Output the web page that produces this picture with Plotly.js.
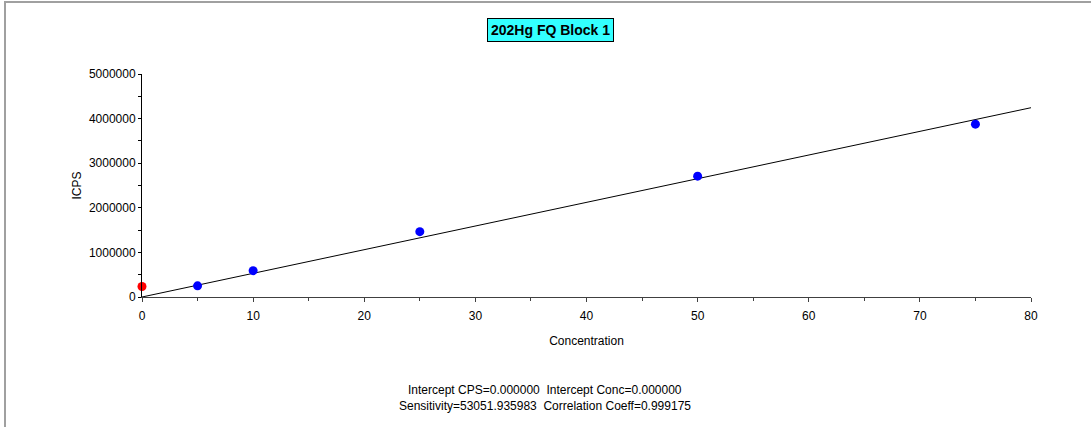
<!DOCTYPE html>
<html>
<head>
<meta charset="utf-8">
<script src="https://cdn.plot.ly/plotly-3.0.1.min.js"></script>
<style>
  html, body { margin: 0; padding: 0; background: #fff; }
  #wrap { position: relative; width: 1091px; height: 427px; overflow: hidden; }
  #frame { position: absolute; left: 4px; top: 1px; width: 1100px; height: 440px;
           border-left: 2px solid #a0a0a0; border-top: 2px solid #a0a0a0; pointer-events: none; }
  #chart { position: absolute; left: 0; top: 0; width: 1091px; height: 427px; }
</style>
</head>
<body>
<div id="wrap">
  <div id="chart"></div>
  <div id="frame"></div>
</div>
<script>
// Calibration standards
const stdConc = [5, 10, 25, 50, 75];
const stdIcps = [250000, 590000, 1465000, 2710000, 3875000];
// Blank
const blankConc = [0];
const blankIcps = [235000];
// Fit parameters
const interceptCps = 0.0;
const sensitivity = 53051.935983;
const correlation = 0.999175;
const fitConc = [0, 80];
const fitIcps = fitConc.map(c => interceptCps + sensitivity * c);

const chartTitle = '202Hg FQ Block 1';
const xTitle = 'Concentration';
const yTitle = 'ICPS';
const statsLine1 = 'Intercept CPS=0.000000  Intercept Conc=0.000000';
const statsLine2 = 'Sensitivity=' + sensitivity.toFixed(6) + '  Correlation Coeff=' + correlation.toFixed(6);

const font = 'Liberation Sans, Arial, sans-serif';

const traces = [
  { x: fitConc, y: fitIcps, mode: 'lines', line: { color: '#000', width: 1 }, hoverinfo: 'skip', cliponaxis: false },
  { x: stdConc, y: stdIcps, mode: 'markers', marker: { color: '#0000ff', size: 9 }, cliponaxis: false },
  { x: blankConc, y: blankIcps, mode: 'markers', marker: { color: '#ff0000', size: 9 }, cliponaxis: false }
];

const layout = {
  width: 1091, height: 427,
  margin: { l: 142, r: 60, t: 74, b: 130 },
  paper_bgcolor: 'rgba(0,0,0,0)', plot_bgcolor: 'rgba(0,0,0,0)',
  showlegend: false,
  font: { family: font, size: 12, color: '#000' },
  xaxis: {
    range: [0, 80], dtick: 10, showgrid: false, zeroline: false,
    showline: true, linecolor: '#404040', linewidth: 1,
    ticks: 'outside', ticklen: 4, tickcolor: '#404040', ticklabelstandoff: 4,
    minor: { dtick: 5, ticks: 'outside', ticklen: 3, tickcolor: '#404040' },
    tickfont: { family: font, size: 12 },
    title: { text: xTitle, font: { family: font, size: 12 }, standoff: 14 }
  },
  yaxis: {
    range: [0, 5000000], dtick: 1000000, showgrid: false, zeroline: false,
    showline: true, linecolor: '#000', linewidth: 1,
    ticks: 'outside', ticklen: 3, tickcolor: '#000',
    minor: { dtick: 500000, ticks: 'outside', ticklen: 3, tickcolor: '#000' },
    tickformat: 'd', separatethousands: false,
    tickfont: { family: font, size: 12 },
    title: { text: yTitle, font: { family: font, size: 12 }, standoff: 4 }
  },
  annotations: [
    { xref: 'paper', yref: 'paper', x: (550 - 142) / 889, y: 1 + (74 - 30) / 223, xanchor: 'center', yanchor: 'middle',
      text: '<b>' + chartTitle + '</b>', showarrow: false,
      font: { family: 'Liberation Sans Narrow, Arial Narrow, Liberation Sans, sans-serif', size: 14, color: '#000' },
      bgcolor: '#33ffff', bordercolor: '#000', borderwidth: 1, borderpad: 3 },
    { xref: 'paper', yref: 'paper', x: (545 - 142) / 889, y: -(390 - 297) / 223, xanchor: 'center', yanchor: 'middle',
      text: statsLine1, showarrow: false, font: { family: font, size: 12 } },
    { xref: 'paper', yref: 'paper', x: (545 - 142) / 889, y: -(406 - 297) / 223, xanchor: 'center', yanchor: 'middle',
      text: statsLine2, showarrow: false, font: { family: font, size: 12 } }
  ]
};

Plotly.newPlot('chart', traces, layout, { displayModeBar: false, staticPlot: true });
</script>
</body>
</html>
